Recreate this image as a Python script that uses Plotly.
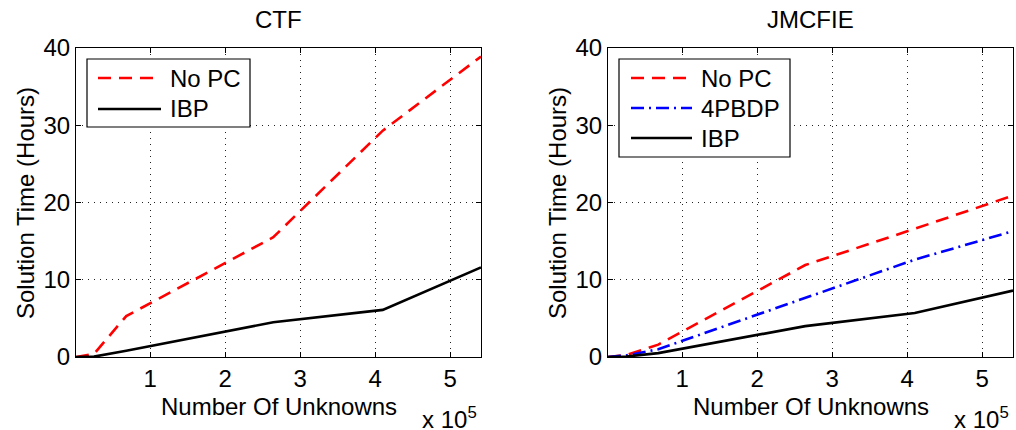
import plotly.graph_objects as go

# Number of unknowns, in units of 1e5 (axis shows "x 10^5")
unknowns = [0.01, 0.25, 0.68, 2.64, 4.1, 5.41]

# CTF solution times (hours)
ctf_no_pc = [0.0, 0.4, 5.3, 15.5, 29.3, 38.9]
ctf_ibp = [0.0, 0.05, 0.8, 4.5, 6.1, 11.6]

# JMCFIE solution times (hours)
jm_no_pc = [0.0, 0.25, 1.6, 11.9, 16.6, 20.9]
jm_4pbdp = [0.0, 0.2, 1.0, 7.6, 12.6, 16.3]
jm_ibp = [0.0, 0.05, 0.5, 4.0, 5.7, 8.6]

x_ticks = [1, 2, 3, 4, 5]
y_ticks = [0, 10, 20, 30, 40]

FONT = "Liberation Sans, Arial, Helvetica, sans-serif"
FS = 24
RED = dict(color="#ff0000", width=2.6, dash="13px,8px")
BLUE = dict(color="#0000ff", width=2.6, dash="13px,5px,2px,5px")
BLACK = dict(color="#000000", width=2.6)

W, H = 1016, 430


def px_x(v):
    return v / W


def px_y(v):
    return 1 - v / H


fig = go.Figure()

fig.add_trace(go.Scatter(x=unknowns, y=ctf_no_pc, mode="lines", name="No PC",
                         line=RED, xaxis="x", yaxis="y", showlegend=False))
fig.add_trace(go.Scatter(x=unknowns, y=ctf_ibp, mode="lines", name="IBP",
                         line=BLACK, xaxis="x", yaxis="y", showlegend=False))

fig.add_trace(go.Scatter(x=unknowns, y=jm_no_pc, mode="lines", name="No PC",
                         line=RED, xaxis="x2", yaxis="y2", showlegend=False))
fig.add_trace(go.Scatter(x=unknowns, y=jm_4pbdp, mode="lines", name="4PBDP",
                         line=BLUE, xaxis="x2", yaxis="y2", showlegend=False))
fig.add_trace(go.Scatter(x=unknowns, y=jm_ibp, mode="lines", name="IBP",
                         line=BLACK, xaxis="x2", yaxis="y2", showlegend=False))

y_dom = [px_y(357), px_y(48)]
left_dom = [px_x(76), px_x(481)]
right_dom = [px_x(608), px_x(1013)]

axis_common = dict(
    showline=True, linecolor="black", linewidth=1.2, mirror="ticks",
    ticks="inside", ticklen=5, tickcolor="black", tickwidth=1,
    showgrid=True, gridcolor="#222222", gridwidth=1, griddash="1px,5px",
    zeroline=False, automargin=False,
    tickfont=dict(family=FONT, size=FS, color="black"),
)

xr = [min(unknowns), max(unknowns)]
fig.update_layout(
    width=W, height=H, autosize=False,
    paper_bgcolor="white", plot_bgcolor="white",
    margin=dict(l=0, r=0, t=0, b=0, pad=0),
    font=dict(family=FONT, size=FS, color="black"),
    xaxis=dict(domain=left_dom, anchor="y", range=xr, tickvals=x_ticks, **axis_common),
    yaxis=dict(domain=y_dom, anchor="x", range=[0, 40], tickvals=y_ticks, **axis_common),
    xaxis2=dict(domain=right_dom, anchor="y2", range=xr, tickvals=x_ticks, **axis_common),
    yaxis2=dict(domain=y_dom, anchor="x2", range=[0, 40], tickvals=y_ticks, **axis_common),
    showlegend=False,
)

shapes = []
ann = []

# legend boxes (drawn by hand so the line samples match the original length)
legends = [
    ((87, 59, 250, 127), 98, 161, 168,
     [("No PC", RED, 78), ("IBP", BLACK, 109)]),
    ((619, 59, 790, 157), 631, 692, 699,
     [("No PC", RED, 78), ("4PBDP", BLUE, 108), ("IBP", BLACK, 138)]),
]
for (x0, y0, x1, y1), lx0, lx1, tx, items in legends:
    shapes.append(dict(type="rect", xref="paper", yref="paper",
                       x0=px_x(x0), x1=px_x(x1), y0=px_y(y1), y1=px_y(y0),
                       line=dict(color="black", width=1.2), fillcolor="white", layer="above"))
    for name, style, cy in items:
        shapes.append(dict(type="line", xref="paper", yref="paper",
                           x0=px_x(lx0), x1=px_x(lx1), y0=px_y(cy), y1=px_y(cy),
                           line=style, layer="above"))
        ann.append(dict(x=px_x(tx), y=px_y(cy), text=name, showarrow=False,
                        xanchor="left", yanchor="middle", xref="paper", yref="paper",
                        font=dict(size=FS)))

for cx, title, ylab_x in [((76 + 481) / 2, "CTF", 25), ((608 + 1013) / 2, "JMCFIE", 557)]:
    ann.append(dict(x=px_x(cx), y=px_y(19), text=title, showarrow=False,
                    xanchor="center", yanchor="middle",
                    xref="paper", yref="paper", font=dict(size=FS)))
    ann.append(dict(x=px_x(cx), y=px_y(406), text="Number Of Unknowns", showarrow=False,
                    xanchor="center", yanchor="middle",
                    xref="paper", yref="paper", font=dict(size=FS)))
    ann.append(dict(x=px_x(ylab_x), y=px_y(203), text="Solution Time (Hours)", showarrow=False,
                    textangle=-90, xanchor="center", yanchor="middle",
                    xref="paper", yref="paper", font=dict(size=FS)))
for rx in [479, 1011]:
    ann.append(dict(x=px_x(rx), y=px_y(418), text="x 10<sup>5</sup>", showarrow=False,
                    xanchor="right", yanchor="middle", xref="paper", yref="paper",
                    font=dict(size=FS)))

fig.update_layout(shapes=shapes, annotations=ann)

fig.write_html("out.html", config={"displayModeBar": False},
               post_script="document.body.style.margin='0';document.body.style.overflow='hidden';")
